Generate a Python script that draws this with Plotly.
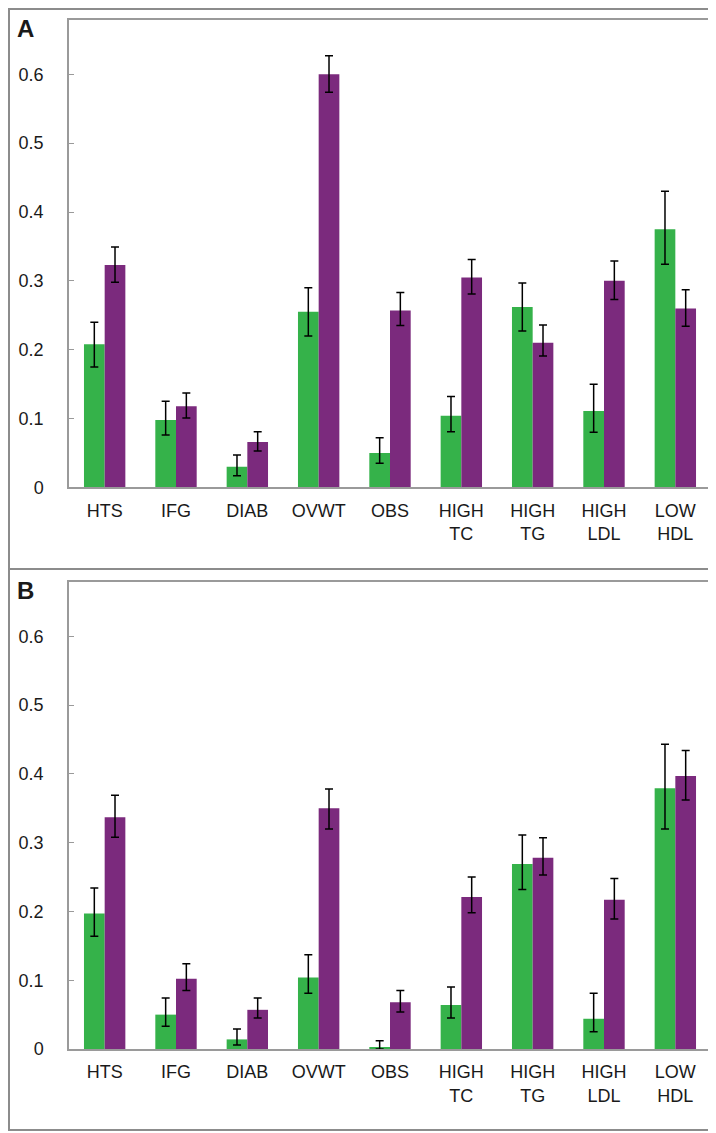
import plotly.graph_objects as go

categories = ["HTS", "IFG", "DIAB", "OVWT", "OBS", "HIGH<br>TC", "HIGH<br>TG", "HIGH<br>LDL", "LOW<br>HDL"]

# Panel A
a_green = [0.208, 0.098, 0.030, 0.255, 0.050, 0.104, 0.262, 0.111, 0.375]
a_green_up = [0.032, 0.027, 0.017, 0.035, 0.022, 0.028, 0.035, 0.039, 0.055]
a_green_dn = [0.033, 0.022, 0.013, 0.035, 0.015, 0.023, 0.035, 0.031, 0.051]
a_purple = [0.323, 0.118, 0.066, 0.600, 0.257, 0.305, 0.210, 0.300, 0.260]
a_purple_up = [0.026, 0.019, 0.015, 0.027, 0.026, 0.026, 0.026, 0.029, 0.027]
a_purple_dn = [0.025, 0.017, 0.013, 0.026, 0.022, 0.024, 0.019, 0.027, 0.026]

# Panel B
b_green = [0.197, 0.050, 0.014, 0.104, 0.003, 0.064, 0.269, 0.044, 0.379]
b_green_up = [0.037, 0.024, 0.015, 0.033, 0.009, 0.026, 0.042, 0.037, 0.064]
b_green_dn = [0.033, 0.017, 0.008, 0.023, 0.003, 0.019, 0.037, 0.019, 0.059]
b_purple = [0.337, 0.102, 0.057, 0.350, 0.068, 0.221, 0.278, 0.217, 0.397]
b_purple_up = [0.032, 0.022, 0.017, 0.028, 0.017, 0.029, 0.029, 0.031, 0.037]
b_purple_dn = [0.029, 0.017, 0.012, 0.030, 0.014, 0.023, 0.025, 0.028, 0.035]

y_ticks = [0, 0.1, 0.2, 0.3, 0.4, 0.5, 0.6]
y_tick_text = ["0", "0.1", "0.2", "0.3", "0.4", "0.5", "0.6"]

GREEN = "#35b24a"
PURPLE = "#7b2a7d"
FONT = "Liberation Sans, Arial, Helvetica, sans-serif"

W, H = 716, 1133

def err(up, dn):
    return dict(type="data", symmetric=False, array=up, arrayminus=dn,
                color="black", thickness=1.5, width=4)

fig = go.Figure()
for vals, up, dn, col, xa, ya in [
    (a_green, a_green_up, a_green_dn, GREEN, "x", "y"),
    (a_purple, a_purple_up, a_purple_dn, PURPLE, "x", "y"),
    (b_green, b_green_up, b_green_dn, GREEN, "x2", "y2"),
    (b_purple, b_purple_up, b_purple_dn, PURPLE, "x2", "y2"),
]:
    fig.add_trace(go.Bar(x=categories, y=vals, marker=dict(color=col, line=dict(width=0)),
                         error_y=err(up, dn), xaxis=xa, yaxis=ya, showlegend=False))

xdom = [61 / W, 703 / W]
ydomA = [(H - 483.7) / H, (H - 12) / H]
ydomB = [(H - 1050.3) / H, (H - 579) / H]

axis_line = "#9a9a9a"
xcommon = dict(domain=xdom, showline=True, mirror=True, linecolor=axis_line, linewidth=1.5,
               showgrid=False, zeroline=False, ticks="", tickfont=dict(size=18, color="#1a1a1a", family=FONT),
               ticklabelstandoff=6)
ycommon = dict(range=[0, 0.679], showline=True, mirror=True, linecolor=axis_line, linewidth=1.5,
               showgrid=False, zeroline=False, ticks="inside", ticklen=5, tickcolor=axis_line,
               tickvals=y_ticks, ticktext=y_tick_text,
               tickfont=dict(size=18, color="#1a1a1a", family=FONT), ticklabelstandoff=20)

fig.update_layout(
    width=W, height=H, margin=dict(l=0, r=0, t=0, b=0, pad=0),
    paper_bgcolor="white", plot_bgcolor="white",
    barmode="group", bargap=0.42, bargroupgap=0,
    font=dict(family=FONT),
    xaxis=dict(**xcommon, anchor="y"),
    yaxis=dict(**ycommon, domain=ydomA, anchor="x"),
    xaxis2=dict(**xcommon, anchor="y2"),
    yaxis2=dict(**ycommon, domain=ydomB, anchor="x2"),
)

frame = "#8c8c8c"
fig.add_shape(type="rect", xref="paper", yref="paper",
              x0=1 / W, x1=(W - 2) / W, y0=(H - 566) / H, y1=(H - 1) / H,
              line=dict(color=frame, width=2))
fig.add_shape(type="rect", xref="paper", yref="paper",
              x0=1 / W, x1=(W - 2) / W, y0=1 / H, y1=(H - 566) / H,
              line=dict(color=frame, width=2))

fig.add_annotation(text="<b>A</b>", xref="paper", yref="paper", x=7 / W, y=(H - 21) / H,
                   xanchor="left", yanchor="middle", showarrow=False,
                   font=dict(size=24, color="#1a1a1a", family=FONT))
fig.add_annotation(text="<b>B</b>", xref="paper", yref="paper", x=7 / W, y=(H - 588) / H,
                   xanchor="left", yanchor="middle", showarrow=False,
                   font=dict(size=24, color="#1a1a1a", family=FONT))

fig.write_html("out.html")
